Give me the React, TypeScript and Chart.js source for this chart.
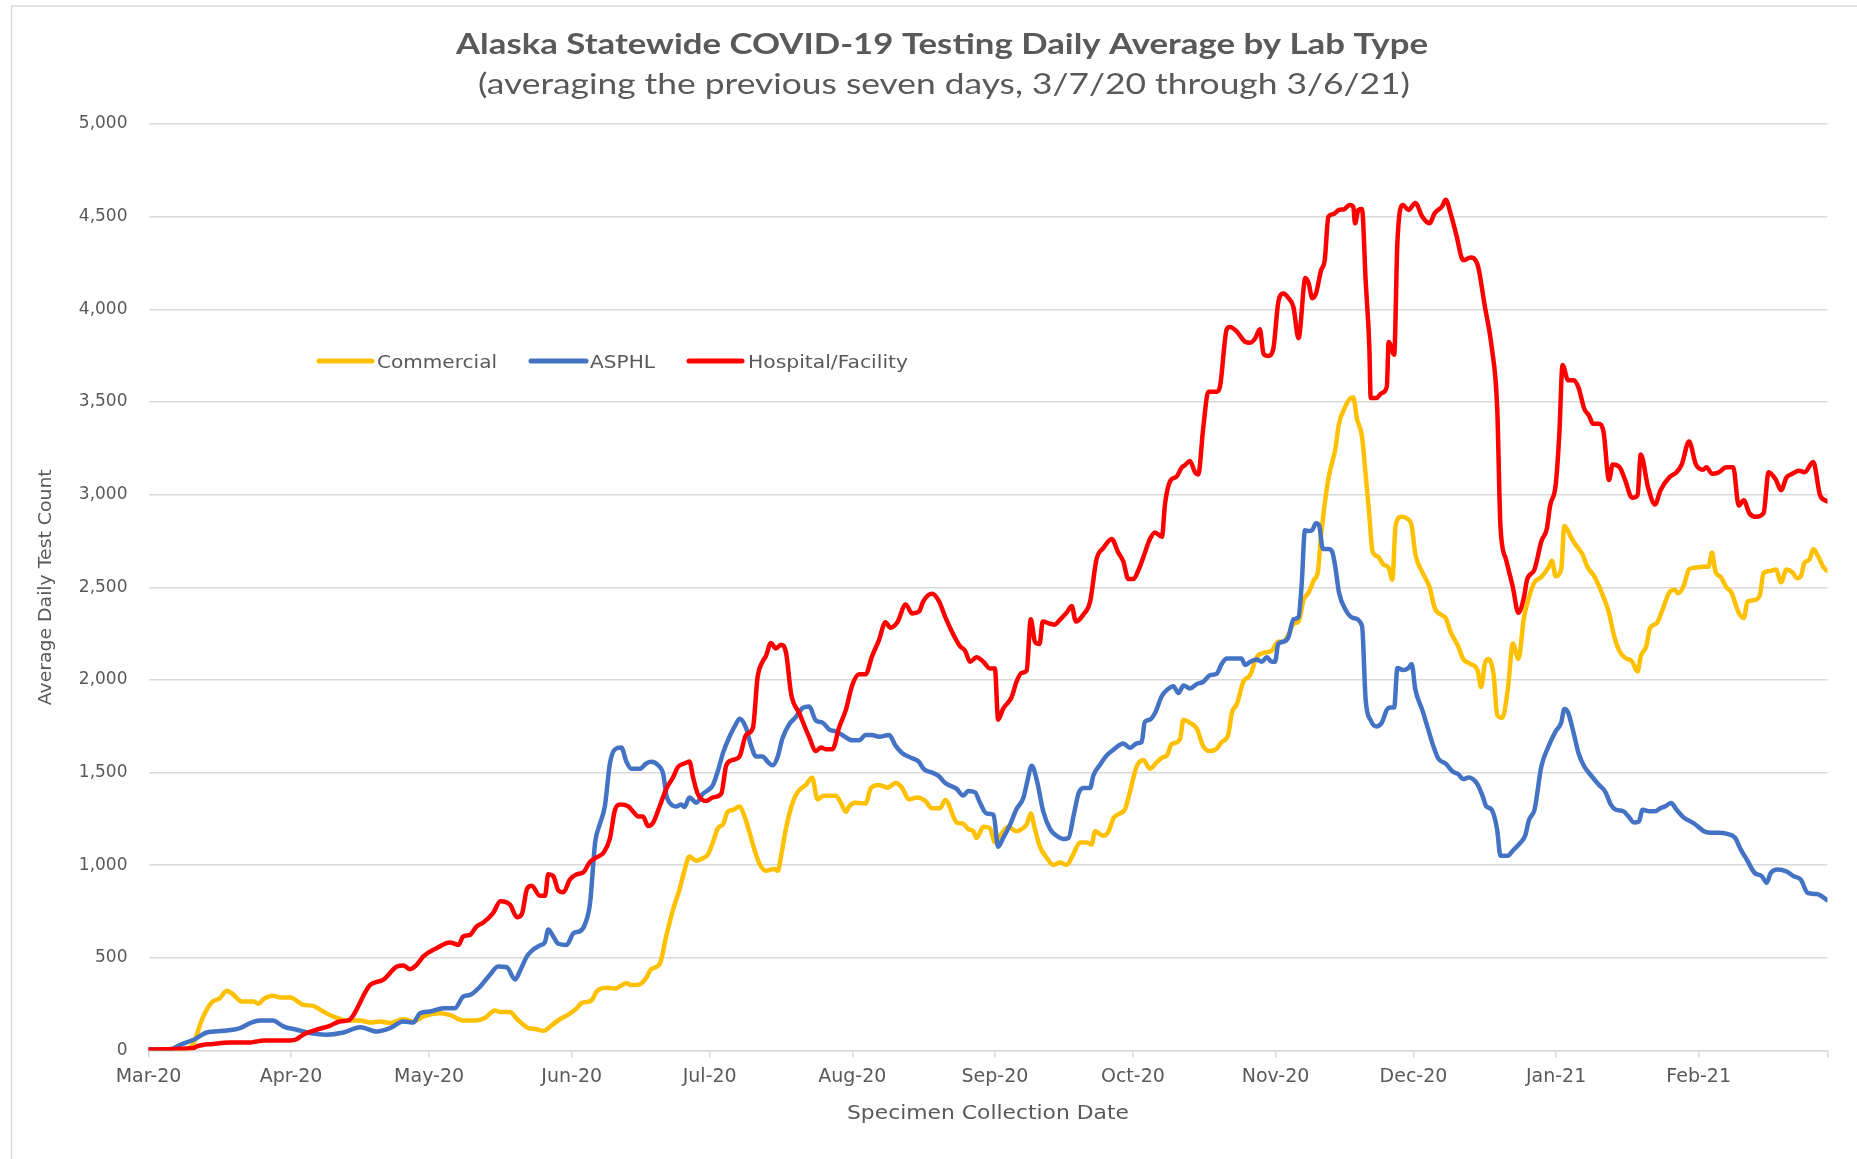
import React, { useEffect, useRef } from 'react';
import { Chart, registerables } from 'chart.js';

Chart.register(...registerables);

const W = 1857;
const H = 1159;

// Day offsets from 1 Mar 2020 where month ticks fall, and their labels
const monthTickDays = [0, 31, 61, 92, 122, 153, 184, 214, 245, 275, 306, 337, 365];
const monthTickLabels = ['Mar-20', 'Apr-20', 'May-20', 'Jun-20', 'Jul-20', 'Aug-20', 'Sep-20', 'Oct-20', 'Nov-20', 'Dec-20', 'Jan-21', 'Feb-21', ''];

const seriesNames = ['Commercial', 'ASPHL', 'Hospital/Facility'];
const seriesColors = ['#FFC000', '#4472C4', '#FF0000'];

// [day offset from 1 Mar 2020, 7-day average test count]
const commercial: [number, number][] = [
  [0, 5], [8.3, 10], [9.8, 40], [11.6, 166], [13.7, 259], [15.5, 282], [17, 322], [18.1, 309], [20.3, 264], [22.8, 264],
  [23.9, 252], [25, 277], [27.1, 295], [28.6, 286], [30.8, 286], [33.7, 246], [35.8, 241], [38, 210], [40.2, 183], [43.1, 162],
  [46, 162], [48.2, 151], [50.3, 157], [52.5, 148], [55.4, 169], [57.6, 157], [59.7, 183], [63.4, 201], [65.5, 192], [68.4, 162],
  [71.3, 162], [73.1, 175], [75.3, 216], [76.5, 208], [78.6, 208], [80.1, 170], [82.6, 121], [84.1, 116], [85.9, 106], [87.7, 137],
  [89.5, 170], [91.6, 199], [93.1, 228], [94.2, 257], [96.3, 270], [97.4, 318], [99.6, 339], [101.4, 334], [103.9, 363], [105, 353],
  [106.8, 357], [108.2, 392], [109.3, 440], [111.1, 465], [112.6, 623], [114, 758], [115.5, 874], [116.5, 970], [117.6, 1047], [119.1, 1024],
  [120.5, 1038], [121.6, 1057], [122.7, 1124], [123.8, 1201], [124.9, 1221], [125.9, 1288], [127, 1298], [128.5, 1317], [129.5, 1269], [130.6, 1182],
  [131.7, 1086], [132.8, 1009], [134.2, 970], [136, 980], [136.8, 970], [137.5, 1047], [138.6, 1201], [140, 1336], [141.1, 1394], [142.9, 1433],
  [144.3, 1472], [145.4, 1356], [146.8, 1375], [148.3, 1375], [149.4, 1375], [150.5, 1337], [151.6, 1288], [152.3, 1317], [153.7, 1337], [155.9, 1333],
  [157, 1414], [158.8, 1433], [160.6, 1418], [162.4, 1443], [163.8, 1418], [165.3, 1356], [167.1, 1366], [168.9, 1346], [170.3, 1308], [172.1, 1308],
  [173.2, 1352], [175.7, 1231], [177.1, 1224], [178.2, 1195], [179.3, 1183], [180, 1147], [181.5, 1207], [182.9, 1200], [184, 1123], [185.1, 1159],
  [186.9, 1207], [188.7, 1183], [189.8, 1195], [190.9, 1219], [191.8, 1279], [192.7, 1195], [193.8, 1099], [195.3, 1039], [196.7, 1002], [198.2, 1014],
  [199.6, 1002], [201.1, 1063], [202.5, 1123], [204, 1123], [205, 1111], [205.8, 1183], [207.6, 1159], [208.7, 1183], [209.8, 1255], [211.2, 1279],
  [212.3, 1303], [213.4, 1400], [214.8, 1532], [216.3, 1568], [217.7, 1520], [219.2, 1556], [220.3, 1580], [221.4, 1592], [222.4, 1653], [224.2, 1677],
  [225, 1785], [226.4, 1768], [227.9, 1737], [229.3, 1641], [230.8, 1616], [232.2, 1628], [233.3, 1665], [234.7, 1701], [235.5, 1821], [236.6, 1869],
  [238, 1990], [239.5, 2026], [240.9, 2122], [242.4, 2146], [244.2, 2158], [245.6, 2206], [246.7, 2206], [247.8, 2243], [248.9, 2303], [250, 2315],
  [251.1, 2431], [252.2, 2472], [253.4, 2541], [254.2, 2582], [254.9, 2776], [256.1, 3024], [256.9, 3134], [258, 3245], [258.8, 3383], [260, 3465],
  [261.1, 3515], [261.9, 3526], [262.7, 3410], [263.8, 3314], [264.6, 3107], [265.4, 2886], [266.1, 2693], [267.3, 2665], [268.4, 2624], [269.6, 2605],
  [270.4, 2541], [271.1, 2831], [272.3, 2880], [273.5, 2872], [274.6, 2831], [275.4, 2679], [276.9, 2582], [278.5, 2500], [279.6, 2389], [281.2, 2348],
  [282, 2334], [283.1, 2257], [284.7, 2182], [285.8, 2113], [287.4, 2086], [288.9, 2053], [289.7, 1962], [290.5, 2086], [291.2, 2113], [292.4, 2031],
  [293.2, 1810], [294.3, 1796], [295.5, 1948], [296.6, 2196], [297.8, 2113], [299, 2334], [300.1, 2445], [301.3, 2527], [302.8, 2555], [304.4, 2610],
  [305.1, 2643], [305.9, 2560], [307.1, 2596], [307.8, 2831], [309.4, 2762], [310.5, 2721], [311.7, 2679], [312.8, 2610], [314.4, 2555], [315.9, 2472],
  [317.5, 2362], [318.6, 2238], [319.8, 2155], [321, 2119], [322.5, 2100], [323.7, 2045], [324.4, 2127], [325.6, 2182], [326.4, 2279], [327.9, 2307],
  [329.1, 2376], [330.6, 2472], [331.8, 2486], [332.5, 2467], [333.7, 2505], [334.9, 2596], [336, 2605], [338, 2610], [339.1, 2610], [339.9, 2687],
  [340.6, 2588], [341.8, 2555], [343, 2500], [344.1, 2472], [345.7, 2362], [346.8, 2334], [347.6, 2422], [349.1, 2431], [350.3, 2458], [351.1, 2577],
  [352.6, 2588], [353.8, 2596], [354.9, 2527], [356.1, 2596], [357.3, 2582], [358.4, 2549], [359.2, 2560], [360, 2632], [361.1, 2651], [361.9, 2707],
  [363, 2665], [364.2, 2605], [365, 2588],
];

const asphl: [number, number][] = [
  [0, 5], [4.7, 7], [6.9, 31], [9.8, 58], [12.7, 97], [16.3, 106], [19.9, 121], [22.1, 148], [24.2, 162], [27.1, 162],
  [28.2, 148], [29.3, 130], [32.2, 112], [35.1, 94], [38.7, 85], [42.4, 97], [46, 126], [49.6, 103], [52.5, 121], [55.4, 157],
  [57.6, 151], [59, 201], [61.2, 210], [64.1, 228], [66.6, 228], [68.4, 291], [69.9, 300], [72.1, 345], [74.2, 408], [76, 453],
  [77.9, 449], [79.7, 383], [80.8, 432], [82.3, 509], [83.3, 538], [85.1, 567], [86.2, 586], [86.9, 653], [88, 615], [89.1, 576],
  [90.9, 570], [92.4, 634], [93.8, 644], [94.9, 682], [96, 797], [97.1, 1124], [98.1, 1220], [99.2, 1317], [100.3, 1548], [101.4, 1625],
  [102.8, 1635], [103.9, 1558], [105, 1520], [106.8, 1520], [108.2, 1549], [109.3, 1558], [110.8, 1539], [111.9, 1491], [112.6, 1375], [113.3, 1337],
  [114.7, 1317], [115.8, 1327], [116.5, 1314], [117.6, 1366], [119.1, 1337], [120.5, 1385], [121.6, 1404], [122.7, 1433], [123.8, 1510], [124.9, 1606],
  [126.3, 1693], [127.7, 1761], [128.5, 1790], [129.9, 1741], [131, 1645], [132.1, 1587], [133.5, 1587], [134.6, 1558], [135.7, 1539], [136.8, 1587],
  [137.8, 1684], [139.3, 1761], [140.7, 1799], [142.2, 1848], [143.6, 1857], [145.1, 1780], [146.5, 1770], [148, 1732], [149.4, 1722], [150.8, 1703],
  [153, 1674], [154.5, 1674], [155.9, 1703], [157.3, 1703], [158.8, 1693], [161, 1703], [162.4, 1645], [163.8, 1606], [166, 1577], [167.5, 1558],
  [168.5, 1520], [170.3, 1500], [171.8, 1481], [173.2, 1443], [175.7, 1412], [177.1, 1376], [178.2, 1400], [179.7, 1393], [180.7, 1340], [182.2, 1279],
  [183.7, 1272], [184.7, 1099], [185.8, 1147], [187.3, 1219], [188.7, 1303], [190.2, 1364], [191, 1448], [192, 1537], [193.1, 1460], [194.5, 1291],
  [196, 1195], [197.4, 1159], [198.9, 1142], [200, 1147], [201.1, 1267], [202.2, 1388], [203.2, 1417], [204.7, 1417], [205.4, 1484], [206.9, 1544],
  [208.3, 1592], [209.8, 1624], [211.9, 1657], [213.4, 1633], [214.8, 1657], [215.9, 1665], [216.6, 1773], [217.7, 1785], [218.8, 1821], [220.3, 1913],
  [221.4, 1946], [222.8, 1966], [223.9, 1929], [225, 1970], [226.4, 1954], [227.9, 1978], [229.3, 1990], [230.8, 2026], [232.2, 2033], [233.3, 2086],
  [234.4, 2115], [235.8, 2115], [237.6, 2115], [238.4, 2081], [239.5, 2098], [240.9, 2110], [242, 2098], [243.1, 2122], [244.2, 2098], [244.9, 2098],
  [245.6, 2194], [246.7, 2206], [247.8, 2230], [248.9, 2327], [250, 2339], [250.7, 2519], [251.4, 2808], [252.2, 2803], [253, 2809], [253.8, 2845],
  [254.5, 2831], [255.3, 2707], [256.5, 2707], [257.3, 2693], [258, 2610], [258.8, 2472], [260.3, 2376], [261.9, 2334], [263.8, 2293], [264.6, 1893],
  [265.7, 1782], [266.9, 1749], [268.1, 1769], [269.2, 1838], [270, 1851], [270.8, 1851], [271.5, 2064], [272.7, 2053], [273.9, 2064], [274.6, 2086],
  [275.4, 1948], [276.9, 1838], [278.1, 1741], [279.3, 1644], [280.4, 1575], [282, 1548], [283.5, 1506], [284.7, 1492], [285.8, 1465], [287, 1473],
  [288.9, 1437], [290.1, 1368], [290.8, 1318], [292, 1299], [293.2, 1189], [293.9, 1051], [295.5, 1051], [296.6, 1079], [298.2, 1120], [299.3, 1161],
  [300.1, 1244], [301.3, 1299], [302.8, 1534], [304.4, 1644], [305.9, 1722], [307.1, 1769], [307.8, 1843], [308.6, 1824], [309.8, 1714], [310.9, 1603],
  [312.1, 1534], [313.6, 1484], [315.2, 1437], [316.7, 1396], [317.9, 1327], [319, 1299], [320.6, 1291], [321.7, 1264], [322.9, 1231], [324, 1236],
  [324.8, 1299], [326.4, 1291], [327.5, 1291], [328.7, 1308], [329.8, 1319], [331, 1335], [332.2, 1299], [333.7, 1258], [336, 1225], [338.3, 1181],
  [339.9, 1175], [341.4, 1175], [343, 1170], [344.9, 1148], [346.1, 1087], [347.6, 1024], [349.1, 960], [350.7, 941], [351.8, 905], [352.6, 955],
  [354.2, 977], [356.1, 966], [357.6, 941], [359.2, 922], [360.7, 850], [362.7, 844], [365, 811],
];

const hospital: [number, number][] = [
  [0, 5], [9.8, 13], [10.5, 22], [12, 31], [13.5, 34], [17.7, 43], [22.1, 43], [23.5, 49], [25, 54], [30.8, 54],
  [32.2, 61], [33.6, 85], [36.5, 112], [39.4, 133], [41.6, 157], [43.4, 162], [48.2, 354], [51, 381], [54, 453], [55.4, 459],
  [56.8, 439], [58.3, 462], [59.7, 507], [62.6, 552], [65.5, 583], [67.4, 570], [68.4, 615], [69.9, 624], [71.3, 669], [72.8, 691],
  [74.9, 741], [76.5, 806], [78.6, 787], [80.1, 719], [81.2, 739], [82.3, 874], [83.3, 889], [85.1, 835], [86.2, 835], [86.9, 951],
  [88, 941], [89.1, 864], [90.2, 854], [91.6, 922], [93.1, 951], [94.5, 961], [96, 1019], [97.4, 1042], [98.9, 1067], [100.3, 1144],
  [101.4, 1298], [102.5, 1327], [104.3, 1317], [105.4, 1288], [106.5, 1263], [107.5, 1263], [108.6, 1211], [109.7, 1230], [111.1, 1317], [112.6, 1414],
  [114, 1472], [115.1, 1530], [116.5, 1549], [117.6, 1559], [118.4, 1472], [119.4, 1385], [121.2, 1346], [122.7, 1366], [124.5, 1385], [125.6, 1539],
  [127, 1568], [128.5, 1587], [129.9, 1703], [131.4, 1742], [132.4, 2012], [133.5, 2099], [134.2, 2128], [135.3, 2199], [136.4, 2170], [137.5, 2190],
  [138.6, 2147], [139.7, 1925], [141.5, 1819], [143.6, 1693], [145.1, 1616], [146.2, 1635], [147.2, 1626], [148.7, 1626], [150.1, 1741], [151.6, 1838],
  [153, 1973], [154.5, 2031], [155.9, 2031], [157.3, 2128], [158.8, 2215], [160.2, 2311], [161.3, 2282], [162.8, 2311], [164.6, 2407], [166, 2359],
  [167.5, 2369], [168.5, 2427], [170.3, 2465], [171.8, 2427], [173.2, 2340], [175, 2243], [176.4, 2182], [177.5, 2158], [178.6, 2098], [180, 2122],
  [181.5, 2098], [182.9, 2062], [184, 2062], [184.7, 1785], [185.8, 1845], [187.6, 1905], [188.7, 1990], [189.8, 2038], [190.9, 2050], [191.8, 2327],
  [192.7, 2206], [193.7, 2194], [194.4, 2315], [196, 2303], [197, 2298], [198.2, 2327], [199.6, 2363], [200.7, 2399], [201.6, 2315], [203.2, 2351],
  [204.7, 2423], [206.1, 2652], [207.6, 2712], [209.4, 2760], [210.8, 2688], [211.9, 2640], [213, 2544], [214.1, 2544], [215.2, 2592], [216.3, 2664],
  [217.7, 2760], [218.8, 2796], [220.3, 2772], [221, 2953], [222.1, 3073], [223.5, 3097], [224.6, 3146], [225.3, 3158], [226.4, 3182], [227.5, 3121],
  [228.2, 3109], [229.3, 3362], [230.4, 3555], [232.2, 3555], [232.9, 3579], [234.4, 3892], [235.1, 3904], [236.6, 3880], [238.4, 3825], [239.5, 3820],
  [240.6, 3844], [241.6, 3892], [242.4, 3760], [243.4, 3748], [244.5, 3784], [245.6, 4037], [246.7, 4085], [247.8, 4061], [248.9, 4012], [250, 3844],
  [251.5, 4169], [252.2, 4141], [253, 4059], [253.8, 4086], [254.9, 4210], [255.7, 4265], [256.5, 4500], [257.6, 4514], [258.8, 4536], [260, 4541],
  [261.1, 4563], [261.9, 4555], [262.3, 4464], [263, 4536], [263.8, 4541], [264.6, 4155], [265.4, 3796], [265.7, 3521], [266.9, 3521], [268.1, 3548],
  [269.2, 3581], [269.6, 3824], [270.8, 3755], [271.5, 4362], [272.7, 4563], [273.9, 4536], [275.4, 4574], [276.9, 4500], [278.5, 4464], [279.6, 4519],
  [281.2, 4555], [282, 4591], [283.1, 4514], [284.3, 4403], [285.8, 4265], [287.4, 4279], [288.9, 4243], [290.5, 4017], [292, 3796], [293.2, 3465],
  [293.9, 2831], [295.1, 2651], [296.6, 2500], [297.8, 2362], [299, 2445], [299.7, 2541], [301.3, 2596], [302.8, 2748], [304, 2817], [304.7, 2941],
  [305.9, 3051], [306.7, 3327], [307.4, 3700], [308.6, 3617], [309.8, 3617], [310.9, 3576], [312.1, 3465], [313.2, 3424], [314, 3383], [315.2, 3383],
  [316.3, 3341], [317.5, 3079], [318.3, 3162], [319.8, 3148], [321, 3079], [322.5, 2983], [323.7, 2996], [324.4, 3217], [326, 3038], [327.5, 2947],
  [328.7, 3024], [330.6, 3093], [332.2, 3121], [333.3, 3162], [334.9, 3286], [336.4, 3162], [337.9, 3134], [338.7, 3148], [339.9, 3112], [341.4, 3121],
  [343, 3148], [344.5, 3148], [345.7, 2941], [346.8, 2969], [348, 2900], [349.5, 2880], [351.1, 2900], [352.2, 3121], [353.8, 3079], [354.9, 3024],
  [356.1, 3093], [357.3, 3112], [358.8, 3129], [360, 3121], [361.9, 3176], [363.4, 2996], [365, 2963],
];

const titleText = 'Alaska Statewide COVID-19 Testing Daily Average by Lab Type';
const subtitleText = '(averaging the previous seven days, 3/7/20 through 3/6/21)';
const xTitleText = 'Specimen Collection Date';
const yTitleText = 'Average Daily Test Count';

const TEXT_COLOR = '#595959';
const GRID_COLOR = '#d9d9d9';
const PLOT_LEFT = 148.5;
const PLOT_TOP = 124;
const PLOT_RIGHT = 1827.5;
const PLOT_BOTTOM = 1050.5;

function drawFitted(
  ctx: CanvasRenderingContext2D,
  text: string,
  x: number,
  y: number,
  font: string,
  targetWidth: number,
  align: CanvasTextAlign,
  rotate = 0,
) {
  ctx.save();
  ctx.font = font;
  const w = ctx.measureText(text).width || 1;
  ctx.translate(x, y);
  if (rotate) ctx.rotate(rotate);
  ctx.scale(targetWidth / w, 1);
  ctx.textAlign = align;
  ctx.textBaseline = 'alphabetic';
  ctx.fillStyle = TEXT_COLOR;
  ctx.fillText(text, 0, 0);
  ctx.restore();
}

const legendLayout = [
  { x1: 319, x2: 372, tx: 377, tw: 120 },
  { x1: 531, x2: 586, tx: 590, tw: 65 },
  { x1: 689, x2: 742, tx: 748, tw: 160 },
];

const decorPlugin = {
  id: 'decor',
  beforeDraw(chart: Chart) {
    const ctx = chart.ctx;
    ctx.save();
    ctx.fillStyle = '#ffffff';
    ctx.fillRect(0, 0, chart.width, chart.height);
    ctx.strokeStyle = GRID_COLOR;
    ctx.lineWidth = 1.5;
    ctx.beginPath();
    ctx.moveTo(11.5, chart.height);
    ctx.lineTo(11.5, 6);
    ctx.lineTo(chart.width, 6);
    ctx.stroke();
    ctx.restore();
  },
  afterDraw(chart: Chart) {
    const ctx = chart.ctx;
    drawFitted(ctx, titleText, 942, 53.5, 'bold 28px Lato', 972, 'center');
    drawFitted(ctx, subtitleText, 944, 94, '28px Lato', 932, 'center');
    const area = chart.chartArea;
    drawFitted(ctx, xTitleText, (area.left + area.right) / 2, 1119, '19px "DejaVu Sans"', 282, 'center');
    drawFitted(ctx, yTitleText, 51, (area.top + area.bottom) / 2, '17px "DejaVu Sans"', 236, 'center', -Math.PI / 2);
    // legend
    const ly = 361;
    legendLayout.forEach((l, i) => {
      ctx.save();
      ctx.strokeStyle = seriesColors[i];
      ctx.lineWidth = 5;
      ctx.lineCap = 'round';
      ctx.beginPath();
      ctx.moveTo(l.x1, ly);
      ctx.lineTo(l.x2, ly);
      ctx.stroke();
      ctx.restore();
      drawFitted(ctx, seriesNames[i], l.tx, ly + 6.7, '18px "DejaVu Sans"', l.tw, 'left');
    });
  },
};

export default function App() {
  const ref = useRef<HTMLCanvasElement>(null);

  useEffect(() => {
    const canvas = ref.current;
    if (!canvas) return;
    const toPts = (arr: [number, number][]) => arr.map(([x, y]) => ({ x, y }));
    const chart = new Chart(canvas, {
      type: 'line',
      data: {
        datasets: [
          { label: seriesNames[0], data: toPts(commercial), borderColor: seriesColors[0], backgroundColor: seriesColors[0], order: 3 },
          { label: seriesNames[1], data: toPts(asphl), borderColor: seriesColors[1], backgroundColor: seriesColors[1], order: 2 },
          { label: seriesNames[2], data: toPts(hospital), borderColor: seriesColors[2], backgroundColor: seriesColors[2], order: 1 },
        ],
      },
      options: {
        responsive: false,
        animation: false,
        devicePixelRatio: 1,
        layout: { padding: { top: PLOT_TOP, right: W - PLOT_RIGHT, bottom: 0, left: 0 } },
        elements: {
          point: { radius: 0, hoverRadius: 0 },
          line: { borderWidth: 4.5, tension: 0.3, cubicInterpolationMode: 'monotone', borderCapStyle: 'round', borderJoinStyle: 'round', fill: false },
        },
        plugins: {
          legend: { display: false },
          title: { display: false },
          tooltip: { enabled: false },
        },
        scales: {
          x: {
            type: 'linear',
            min: 0,
            max: 365,
            afterBuildTicks: (scale: any) => {
              scale.ticks = monthTickDays.map((v) => ({ value: v }));
            },
            afterFit: (scale: any) => {
              scale.height = H - PLOT_BOTTOM;
            },
            ticks: {
              autoSkip: false,
              maxRotation: 0,
              minRotation: 0,
              padding: 8,
              color: TEXT_COLOR,
              font: { family: '"DejaVu Sans"', size: 19 },
              callback: (_v: any, i: number) => monthTickLabels[i] ?? '',
            },
            grid: { drawOnChartArea: false, drawTicks: true, tickLength: 7, color: GRID_COLOR, lineWidth: 1.5 },
            border: { display: true, color: GRID_COLOR, width: 1.5 },
          },
          y: {
            min: 0,
            max: 5000,
            afterFit: (scale: any) => {
              scale.width = PLOT_LEFT;
            },
            ticks: {
              stepSize: 500,
              padding: 21,
              color: TEXT_COLOR,
              font: { family: '"DejaVu Sans"', size: 17 },
              callback: (v: any) => Number(v).toLocaleString('en-US'),
            },
            grid: { color: GRID_COLOR, lineWidth: 1.5, drawTicks: false },
            border: { display: false },
          },
        },
      },
      plugins: [decorPlugin],
    } as any);
    return () => chart.destroy();
  }, []);

  return (
    <div style={{ position: 'absolute', left: 0, top: 0, width: W, height: H, background: '#ffffff' }}>
      <canvas ref={ref} width={W} height={H} style={{ display: 'block', width: W, height: H }} />
    </div>
  );
}
